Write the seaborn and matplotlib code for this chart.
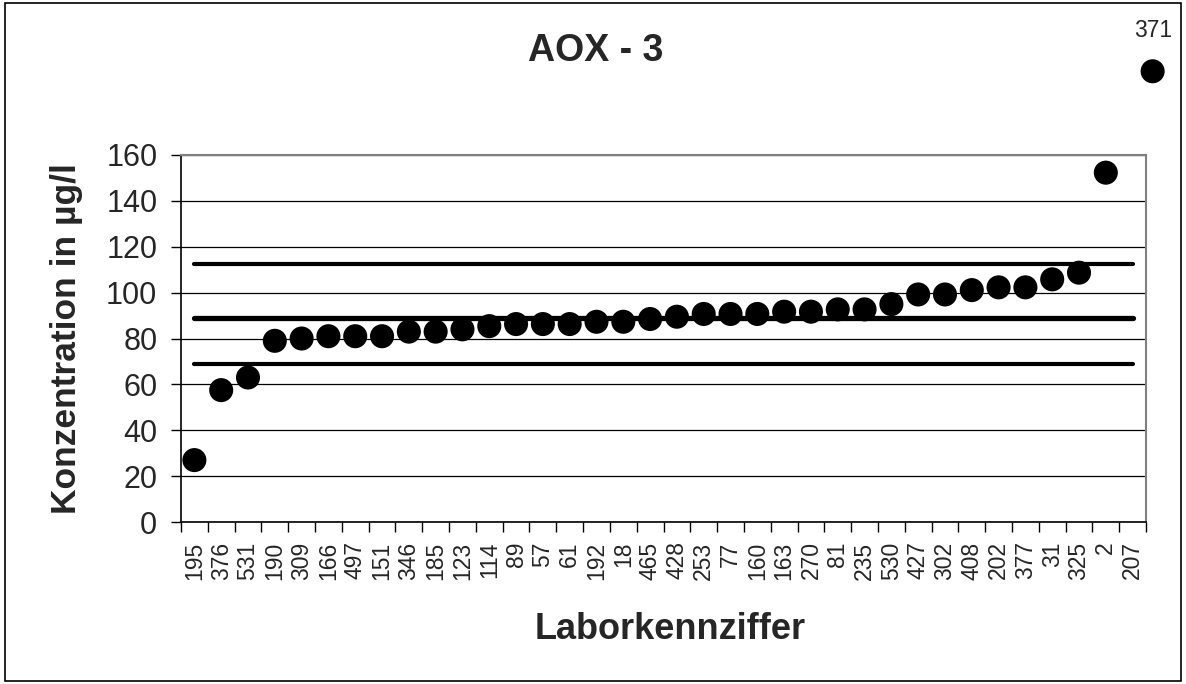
"""AOX - 3: Laborergebnisse mit Mittelwert und Toleranzgrenzen."""
import matplotlib

matplotlib.use("Agg")
import matplotlib.pyplot as plt
import matplotlib.transforms as mtransforms
import numpy as np
import pandas as pd
import seaborn as sns
from matplotlib.patches import Rectangle

labs = ["195", "376", "531", "190", "309", "166", "497", "151", "346", "185",
        "123", "114", "89", "57", "61", "192", "18", "465", "428", "253",
        "77", "160", "163", "270", "81", "235", "530", "427", "302", "408",
        "202", "377", "31", "325", "2", "207"]
values = [27, 57.5, 63, 79, 80, 81, 81, 81, 83, 83,
          84, 85.4, 86.3, 86.3, 86.3, 87.3, 87.3, 88.5, 89.5, 90.7,
          90.7, 90.7, 91.7, 91.7, 92.7, 92.7, 95, 99.2, 99.2, 101.1,
          102.3, 102.3, 105.8, 108.7, 152.3, 371]
upper_limit = 112.5
mean_value = 88.8
lower_limit = 68.7
y_ticks = [0, 20, 40, 60, 80, 100, 120, 140, 160]
outlier_cap = 196.5  # values above the axis are drawn at this height, labelled

sns.set_theme(style="white")
plt.rcParams["font.family"] = ["Liberation Sans", "DejaVu Sans"]

df = pd.DataFrame({"lab": labs, "value": values})
df["pos"] = np.arange(len(df))
df["shown"] = df["value"].clip(upper=outlier_cap)
n = len(df)
inside = df[df["value"] <= outlier_cap]
outside = df[df["value"] > outlier_cap]

fig = plt.figure(figsize=(11.86, 6.84), dpi=100)
fig.patches.append(Rectangle((0.004, 0.004), 0.992, 0.991, transform=fig.transFigure,
                             fill=False, edgecolor="black", linewidth=1.2))
ax = fig.add_axes([0.1526, 0.2368, 0.8137, 0.5366])

ax.set_ylim(0, 160)
ax.set_xlim(-0.5, n - 0.5)
ax.set_yticks(y_ticks)
ax.grid(axis="y", color="black", linewidth=0.9)
ax.set_axisbelow(True)

for v, lw in [(upper_limit, 3.0), (mean_value, 3.8), (lower_limit, 3.0)]:
    ax.plot([df["pos"].iloc[0], df["pos"].iloc[-1]], [v, v], color="black",
            linewidth=lw, solid_capstyle="round", zorder=2)

sns.scatterplot(data=inside, x="pos", y="shown", ax=ax, s=300, color="black",
                edgecolor="none", zorder=3, clip_on=False, legend=False)

# off-scale values: marker above the plot area, nudged right, with value label
shift = mtransforms.offset_copy(ax.transData, fig=fig, x=20, y=0, units="dots")
ax.scatter(outside["pos"], outside["shown"], s=300, color="black", edgecolor="none",
           zorder=3, clip_on=False, transform=shift)
for _, row in outside.iterrows():
    ax.annotate(f"{row['value']:g}", (row["pos"], row["shown"]), xytext=(15, 21),
                textcoords="offset points", ha="center", va="bottom", fontsize=16.5,
                annotation_clip=False)

ax.set_xticks(df["pos"])
ax.set_xticklabels(df["lab"], rotation=90, fontsize=16.5)
ax.set_xticks(np.arange(n + 1) - 0.5, minor=True)
ax.tick_params(axis="x", which="major", length=0, pad=14)
ax.tick_params(axis="x", which="minor", bottom=True, length=7, width=1, color="black")
ax.tick_params(axis="y", left=True, length=7, width=1, color="black", labelsize=22, pad=10)

for side in ["left", "bottom"]:
    ax.spines[side].set_color("black")
    ax.spines[side].set_linewidth(1.2)
for side in ["top", "right"]:
    ax.spines[side].set_color("#808080")
    ax.spines[side].set_linewidth(1.5)

ax.set_xlabel("Laborkennziffer", fontsize=26, fontweight="bold")
ax.xaxis.set_label_coords(0.507, -0.245)
ax.set_ylabel("Konzentration in µg/l", fontsize=25.5, fontweight="bold")
ax.yaxis.set_label_coords(-0.102, 0.5)
fig.text(0.5025, 0.925, "AOX - 3", ha="center", va="center", fontsize=27, fontweight="bold")

fig.savefig("out.png", dpi=100)
plt.close(fig)
